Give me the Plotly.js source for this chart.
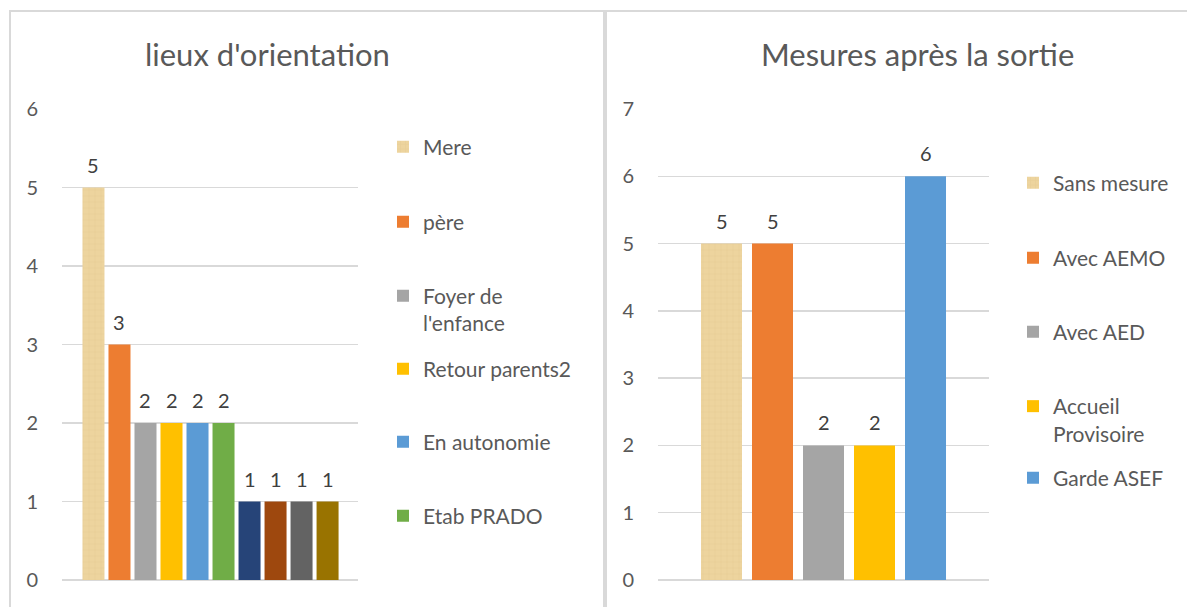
<!DOCTYPE html>
<html>
<head>
<meta charset="utf-8">
<script src="https://cdn.plot.ly/plotly-3.0.1.min.js"></script>
<style>html,body{margin:0;padding:0;background:#fff;}#chart{width:1187px;height:607px;}</style>
</head>
<body>
<div id="chart"></div>
<script>
// ---- data ----
const leftTitle = "lieux d'orientation";
const leftNames = ["Mere", "père", "Foyer de l'enfance", "Retour parents2", "En autonomie", "Etab PRADO", null, null, null, null];
const leftValues = [5, 3, 2, 2, 2, 2, 1, 1, 1, 1];
const leftTicks = [0, 1, 2, 3, 4, 5, 6];

const rightTitle = "Mesures après la sortie";
const rightNames = ["Sans mesure", "Avec AEMO", "Avec AED", "Accueil Provisoire", "Garde ASEF"];
const rightValues = [5, 5, 2, 2, 6];
const rightTicks = [0, 1, 2, 3, 4, 5, 6, 7];

// ---- styles ----
const palette = ["#EBD39A", "#ED7D31", "#A5A5A5", "#FFC000", "#5B9BD5", "#70AD47", "#264478", "#9E480E", "#636363", "#997300"];
const FONT = "Lato, 'Open Sans', sans-serif";
const TXT = "#595959";
const W = 1187, H = 607;
const px = p => p / W;
const py = p => 1 - p / H;

function wrap(name, maxChars) {
  const words = name.split(" ");
  const lines = [];
  let cur = "";
  words.forEach(w => {
    const cand = cur ? cur + " " + w : w;
    if (cand.length > maxChars && cur) { lines.push(cur); cur = w; } else { cur = cand; }
  });
  if (cur) lines.push(cur);
  return lines.join("<br>");
}

const traces = [];
const annotations = [];
const legends = {};
let legendCount = 0;

function texture(i) {
  return i === 0 ? {shape: "+", fgcolor: "#D8BA7E", bgcolor: "#EDD49E", fgopacity: 0.35, size: 6, solidity: 0.15} : undefined;
}

function addChart(names, values, xa, ya, barWidth, legendLeftPx, legendCentersPx) {
  let shown = 0;
  names.forEach((n, i) => {
    const t = {
      type: "bar", x: [i], y: [values[i]], width: barWidth,
      xaxis: xa, yaxis: ya,
      name: n ? wrap(n, 15) : "",
      marker: {color: palette[i], line: {width: 0}},
      hoverinfo: "skip",
      showlegend: !!n
    };
    const pat = texture(i);
    if (pat) t.marker.pattern = pat;
    if (n) {
      legendCount++;
      const id = legendCount === 1 ? "legend" : "legend" + legendCount;
      t.legend = id;
      legends[id] = {
        x: px(legendLeftPx), xanchor: "left",
        y: py(legendCentersPx[shown]), yanchor: "middle",
        bgcolor: "rgba(0,0,0,0)", borderwidth: 0, valign: "top",
        font: {family: FONT, size: 21, color: TXT}
      };
      shown++;
    }
    traces.push(t);
    annotations.push({
      xref: xa, yref: ya, x: i, y: values[i], text: String(values[i]),
      showarrow: false, yanchor: "middle", yshift: 23,
      font: {family: FONT, size: 20, color: "#404040"}
    });
  });
}

addChart(leftNames, leftValues, "x", "y", 0.846, 383, [147, 222, 309.5, 369, 442, 516]);
addChart(rightNames, rightValues, "x2", "y2", 0.804, 1013, [183, 258, 332, 420, 478]);

annotations.push({xref: "paper", yref: "paper", x: px(267.5), y: py(54), xanchor: "center", yanchor: "middle",
  text: leftTitle, showarrow: false, font: {family: FONT, size: 31, color: TXT}});
annotations.push({xref: "paper", yref: "paper", x: px(917.5), y: py(54), xanchor: "center", yanchor: "middle",
  text: rightTitle, showarrow: false, font: {family: FONT, size: 31, color: TXT}});

const yBase = {
  showgrid: true, gridcolor: "#D9D9D9", gridwidth: 1.5,
  zeroline: true, zerolinecolor: "#D9D9D9", zerolinewidth: 1.5,
  showline: false, ticks: "", tickmode: "array",
  tickfont: {family: FONT, size: 20, color: TXT}, ticklabelstandoff: 23, fixedrange: true
};
const xBase = {showgrid: false, zeroline: false, showline: false, showticklabels: false, ticks: "", fixedrange: true};

const layout = Object.assign({
  width: W, height: H,
  margin: {l: 0, r: 0, t: 0, b: 0},
  paper_bgcolor: "#fff", plot_bgcolor: "rgba(0,0,0,0)",
  barmode: "overlay",
  xaxis: Object.assign({}, xBase, {domain: [px(62), px(358)], range: [-1.21, 10.17], anchor: "y"}),
  yaxis: Object.assign({}, yBase, {domain: [py(580), py(109)], range: [0, 6], tickvals: leftTicks, anchor: "x"}),
  xaxis2: Object.assign({}, xBase, {domain: [px(658), px(989)], range: [-1.245, 5.245], anchor: "y2"}),
  yaxis2: Object.assign({}, yBase, {domain: [py(580), py(109)], range: [0, 7], tickvals: rightTicks, anchor: "x2"}),
  annotations: annotations,
  shapes: [
    {type: "path", xref: "paper", yref: "paper", path: `M ${px(10)} ${py(620)} L ${px(10)} ${py(11)} L ${px(604)} ${py(11)} L ${px(604)} ${py(620)}`, line: {color: "#D9D9D9", width: 2}},
    {type: "path", xref: "paper", yref: "paper", path: `M ${px(606)} ${py(620)} L ${px(606)} ${py(11)} L ${px(1200)} ${py(11)}`, line: {color: "#D9D9D9", width: 2}}
  ],
  showlegend: true
}, legends);

Plotly.newPlot("chart", traces, layout, {displayModeBar: false, staticPlot: true});
</script>
</body>
</html>
